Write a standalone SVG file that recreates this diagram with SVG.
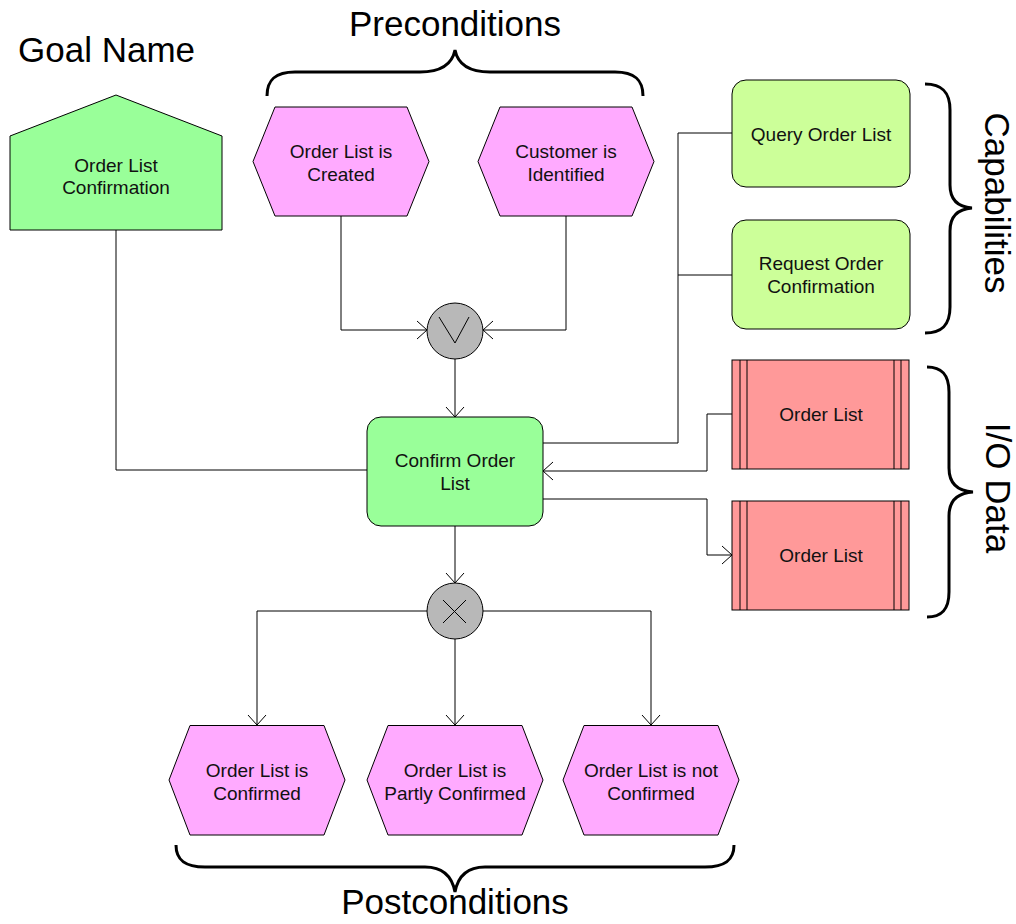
<svg xmlns="http://www.w3.org/2000/svg" width="1016" height="924" viewBox="0 0 1016 924">
<style>
.t{font-family:"Liberation Sans",Arial,sans-serif;font-size:19px;fill:#111;text-anchor:middle}
.big{font-family:"Liberation Sans",Arial,sans-serif;font-size:35px;fill:#000;text-anchor:middle}
.n{stroke:#000;stroke-width:1}
.ev{fill:#ffaaff}
.fn{fill:#99ff99}
.cap{fill:#ccff99}
.dat{fill:#ff9999}
.gate{fill:#b8b8b8}
.c{fill:none;stroke:#000;stroke-width:1}
.br{fill:none;stroke:#000;stroke-width:3}
</style>
<defs>
<marker id="arr" markerUnits="userSpaceOnUse" markerWidth="12" markerHeight="20" viewBox="-1 -1 12 20" refX="10" refY="9" orient="auto">
<path d="M0,0 L10,9 L0,18" fill="none" stroke="#000" stroke-width="1"/>
</marker>
</defs>
<rect width="1016" height="924" fill="#fff"/>

<g id="titles">
<text class="big" x="18" y="62" style="text-anchor:start">Goal Name</text>
<text class="big" x="455" y="36">Preconditions</text>
<text class="big" x="455" y="914">Postconditions</text>
<text class="big" transform="translate(985,203) rotate(90)">Capabilities</text>
<text class="big" transform="translate(986,488) rotate(90)">I/O Data</text>
</g>

<g id="braces">
<path class="br" d="M267,96 C267,80 275,72 295,72 L420,72 C440,72 452,65 455,50 C458,65 470,72 490,72 L615,72 C635,72 643,80 643,96"/>
<path class="br" d="M925,84 C942,84 950,92 950,110 L950,185 C950,200 958,207 972,208 C958,209 950,216 950,231 L950,307 C950,325 942,333 925,333"/>
<path class="br" d="M927,367 C942,367 949,375 949,392 L949,468 C949,483 957,491 973,492 C957,493 949,501 949,516 L949,592 C949,609 942,617 927,617"/>
<path class="br" d="M176,845 C176,860 185,867 205,867 L425,867 C442,867 452,876 455,892 C458,876 468,867 485,867 L705,867 C725,867 734,860 734,845"/>
</g>

<g id="connectors">
<path class="c" d="M341,216 V330 H427" marker-end="url(#arr)"/>
<path class="c" d="M566,216 V330 H483" marker-end="url(#arr)"/>
<path class="c" d="M455,359 V417" marker-end="url(#arr)"/>
<path class="c" d="M116,230 V470 H367"/>
<path class="c" d="M732,133 H678 V443 H543"/>
<path class="c" d="M732,275 H678"/>
<path class="c" d="M732,414 H707 V471 H543" marker-end="url(#arr)"/>
<path class="c" d="M543,499 H707 V555 H732" marker-end="url(#arr)"/>
<path class="c" d="M455,526 V583" marker-end="url(#arr)"/>
<path class="c" d="M427,611 H257 V725" marker-end="url(#arr)"/>
<path class="c" d="M455,639 V725" marker-end="url(#arr)"/>
<path class="c" d="M483,611 H651 V725" marker-end="url(#arr)"/>
</g>

<g id="goal">
<polygon class="n fn" points="10,230 10,136 116,95 222,136 222,230"/>
<text class="t" x="116" y="171.5">Order List</text>
<text class="t" x="116" y="194">Confirmation</text>
</g>

<g id="pre-created">
<polygon class="n ev" points="253,161.5 275,107 407,107 429,161.5 407,216 275,216"/>
<text class="t" x="341" y="158">Order List is</text>
<text class="t" x="341" y="181">Created</text>
</g>

<g id="pre-identified">
<polygon class="n ev" points="478,161.5 500,107 632,107 654,161.5 632,216 500,216"/>
<text class="t" x="566" y="158">Customer is</text>
<text class="t" x="566" y="181">Identified</text>
</g>

<g id="or-gate">
<circle class="n gate" cx="455" cy="331" r="28"/>
<path class="c" d="M439,317 L455,343 L469,317"/>
</g>

<g id="confirm">
<rect class="n fn" x="367" y="417" width="176" height="109" rx="14"/>
<text class="t" x="455" y="466.5">Confirm Order</text>
<text class="t" x="455" y="489.5">List</text>
</g>

<g id="query">
<rect class="n cap" x="732" y="80" width="178" height="107" rx="14"/>
<text class="t" x="821" y="141">Query Order List</text>
</g>

<g id="request">
<rect class="n cap" x="732" y="220" width="178" height="109" rx="14"/>
<text class="t" x="821" y="269.5">Request Order</text>
<text class="t" x="821" y="292.5">Confirmation</text>
</g>

<g id="data-in">
<rect class="n dat" x="732" y="360" width="177" height="109"/>
<path class="c" d="M740,360 V469 M747,360 V469 M894,360 V469 M901,360 V469"/>
<text class="t" x="821" y="421">Order List</text>
</g>

<g id="data-out">
<rect class="n dat" x="732" y="501" width="177" height="109"/>
<path class="c" d="M740,501 V610 M747,501 V610 M894,501 V610 M901,501 V610"/>
<text class="t" x="821" y="562">Order List</text>
</g>

<g id="xor-gate">
<circle class="n gate" cx="455" cy="611" r="28"/>
<path class="c" d="M443,600 L466,623 M466,600 L443,623"/>
</g>

<g id="post-confirmed">
<polygon class="n ev" points="169,780 190,725.5 324,725.5 345,780 324,835 190,835"/>
<text class="t" x="257" y="777">Order List is</text>
<text class="t" x="257" y="800">Confirmed</text>
</g>

<g id="post-partly">
<polygon class="n ev" points="367,780 388,725.5 522,725.5 543,780 522,835 388,835"/>
<text class="t" x="455" y="777">Order List is</text>
<text class="t" x="455" y="800">Partly Confirmed</text>
</g>

<g id="post-not">
<polygon class="n ev" points="563,780 584,725.5 718,725.5 739,780 718,835 584,835"/>
<text class="t" x="651" y="777">Order List is not</text>
<text class="t" x="651" y="800">Confirmed</text>
</g>
</svg>
